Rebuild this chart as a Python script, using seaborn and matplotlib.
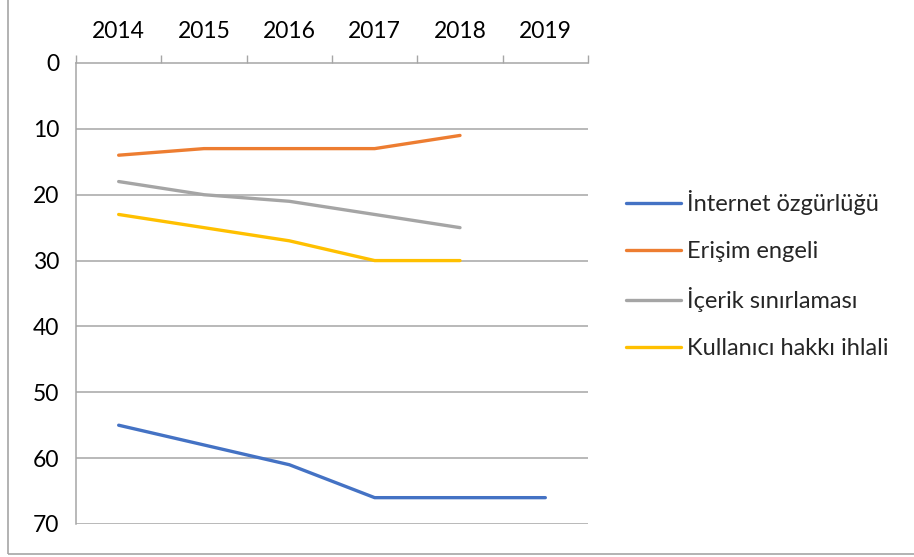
import numpy as np
import pandas as pd
import seaborn as sns
import matplotlib
matplotlib.use("Agg")
import matplotlib.pyplot as plt
from matplotlib.patches import Rectangle

years = ["2014", "2015", "2016", "2017", "2018", "2019"]
internet_ozgurlugu = [55, 58, 61, 66, 66, 66]
erisim_engeli = [14, 13, 13, 13, 11, np.nan]
icerik_sinirlamasi = [18, 20, 21, 23, 25, np.nan]
kullanici_hakki = [23, 25, 27, 30, 30, np.nan]
series_names = ["İnternet özgürlüğü", "Erişim engeli", "İçerik sınırlaması", "Kullanıcı hakkı ihlali"]
colors = ["#4472C4", "#ED7D31", "#A5A5A5", "#FFC000"]
yticks = [0, 10, 20, 30, 40, 50, 60, 70]

rows = []
for name, vals in zip(series_names, [internet_ozgurlugu, erisim_engeli, icerik_sinirlamasi, kullanici_hakki]):
    for i, v in enumerate(vals):
        rows.append({"pos": i, "year": years[i], "value": v, "series": name})
df = pd.DataFrame(rows)

sns.set_theme(style="white")
plt.rcParams["font.family"] = ["Lato", "DejaVu Sans"]

fig = plt.figure(figsize=(9.14, 5.57), dpi=100)
ax = fig.add_axes([76/914, 1 - 524/557, (588-76)/914, (524-63)/557])

sns.lineplot(data=df, x="pos", y="value", hue="series", hue_order=series_names,
             palette=colors, linewidth=2.4, ax=ax, legend=True)

ax.set_xlim(-0.5, len(years) - 0.5)
ax.set_ylim(70, 0)
ax.xaxis.tick_top()
ax.set_xticks(range(len(years)))
ax.set_xticklabels(years, fontsize=16.5, color="#000000")
ax.set_xticks(np.arange(-0.5, len(years), 1.0), minor=True)
ax.tick_params(axis="x", which="major", length=0, pad=15)
ax.tick_params(axis="x", which="minor", length=6, width=1, color="#A6A6A6", direction="out")
ax.set_yticks(yticks)
ax.set_yticklabels([str(t) for t in yticks], fontsize=16.5, color="#000000")
ax.tick_params(axis="y", which="major", length=10, width=1, color="#A6A6A6", direction="out", pad=2)
ax.set_xlabel("")
ax.set_ylabel("")

for t in yticks[1:]:
    ax.axhline(t, color="#A6A6A6", linewidth=1.1, zorder=0)
for s in ["right", "bottom"]:
    ax.spines[s].set_visible(False)
ax.spines["left"].set_color("#A6A6A6")
ax.spines["left"].set_linewidth(1.1)
ax.spines["top"].set_color("#A6A6A6")
ax.spines["top"].set_linewidth(1.1)

handles, labels = ax.get_legend_handles_labels()
ax.legend(handles, labels, loc="upper left", bbox_to_anchor=(617/914, 1 - 181/557),
          bbox_transform=fig.transFigure, frameon=False, fontsize=17,
          handlelength=2.3, handletextpad=0.25, labelspacing=1.08, borderaxespad=0)

fig.patches.append(Rectangle((8/914, 3/557), 1.2, 1.2, transform=fig.transFigure,
                             fill=False, edgecolor="#A6A6A6", linewidth=1.2))

fig.savefig("out.png", dpi=100)
